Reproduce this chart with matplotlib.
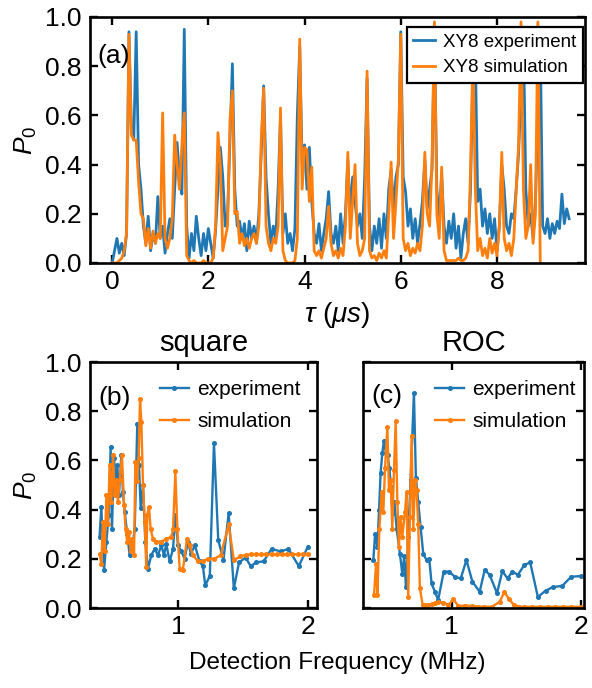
import matplotlib
matplotlib.use("Agg")
import matplotlib.pyplot as plt
import numpy as np

# ---- (a) XY8 sweep, P0 vs tau (us), sampled every 0.05 us ----
p_xy8_exp = [
    0.00, 0.05, 0.10, 0.04, 0.08, 0.03, 0.12, 0.94, 0.55, 0.50,
    0.94, 0.40, 0.30, 0.15, 0.08, 0.19, 0.05, 0.12, 0.08, 0.27,
    0.10, 0.15, 0.04, 0.12, 0.18, 0.10, 0.30, 0.49, 0.35, 0.28,
    0.95, 0.15, 0.02, 0.12, 0.05, 0.19, 0.10, 0.03, 0.12, 0.05,
    0.14, 0.08, 0.02, 0.13, 0.30, 0.47, 0.35, 0.15, 0.20, 0.50,
    0.81, 0.30, 0.15, 0.17, 0.10, 0.16, 0.05, 0.17, 0.10, 0.15,
    0.08, 0.20, 0.45, 0.72, 0.35, 0.20, 0.08, 0.15, 0.10, 0.30,
    0.60, 0.12, 0.20, 0.08, 0.12, 0.05, 0.14, 0.60, 0.88, 0.40,
    0.48, 0.30, 0.47, 0.25, 0.12, 0.08, 0.16, 0.05, 0.12, 0.18,
    0.29, 0.12, 0.08, 0.15, 0.05, 0.20, 0.08, 0.20, 0.42, 0.20,
    0.35, 0.25, 0.15, 0.20, 0.10, 0.35, 0.75, 0.15, 0.05, 0.15,
    0.08, 0.18, 0.06, 0.20, 0.10, 0.30, 0.38, 0.22, 0.35, 0.40,
    0.94, 0.35, 0.29, 0.15, 0.22, 0.10, 0.18, 0.08, 0.16, 0.25,
    0.42, 0.22, 0.30, 0.38, 0.95, 0.30, 0.18, 0.36, 0.15, 0.08,
    0.17, 0.10, 0.20, 0.06, 0.15, 0.02, 0.12, 0.18, 0.08, 0.30,
    0.80, 0.85, 0.25, 0.30, 0.15, 0.22, 0.12, 0.20, 0.10, 0.18,
    0.05, 0.15, 0.40, 0.30, 0.15, 0.12, 0.20, 0.18, 0.30, 0.45,
    0.70, 0.92, 0.30, 0.15, 0.20, 0.10, 0.25, 0.60, 0.90, 0.15,
    0.12, 0.18, 0.10, 0.16, 0.12, 0.17, 0.14, 0.28, 0.16, 0.22, 0.18,
]
p_xy8_sim = [
    0.00, 0.00, 0.00, 0.01, 0.02, 0.05, 0.12, 0.93, 0.52, 0.50,
    0.50, 0.33, 0.20, 0.18, 0.07, 0.14, 0.06, 0.13, 0.08, 0.12,
    0.10, 0.61, 0.10, 0.06, 0.10, 0.18, 0.52, 0.40, 0.30, 0.48,
    0.61, 0.03, 0.01, 0.00, 0.01, 0.00, 0.00, 0.00, 0.01, 0.00,
    0.00, 0.00, 0.02, 0.15, 0.53, 0.40, 0.05, 0.10, 0.15, 0.58,
    0.70, 0.20, 0.21, 0.08, 0.12, 0.07, 0.10, 0.06, 0.10, 0.12,
    0.08, 0.15, 0.50, 0.71, 0.15, 0.08, 0.05, 0.10, 0.08, 0.15,
    0.63, 0.05, 0.01, 0.00, 0.00, 0.00, 0.01, 0.10, 0.91, 0.30,
    0.47, 0.46, 0.25, 0.39, 0.05, 0.03, 0.05, 0.02, 0.06, 0.10,
    0.23, 0.08, 0.03, 0.05, 0.02, 0.06, 0.03, 0.15, 0.45, 0.10,
    0.25, 0.40, 0.08, 0.03, 0.05, 0.10, 0.78, 0.05, 0.02, 0.03,
    0.01, 0.04, 0.02, 0.05, 0.02, 0.20, 0.41, 0.10, 0.25, 0.42,
    0.93, 0.10, 0.05, 0.08, 0.03, 0.06, 0.04, 0.08, 0.05, 0.15,
    0.45, 0.20, 0.15, 0.41, 0.98, 0.20, 0.10, 0.39, 0.05, 0.01,
    0.01, 0.01, 0.01, 0.01, 0.02, 0.01, 0.01, 0.02, 0.05, 0.37,
    0.85, 0.30, 0.05, 0.10, 0.03, 0.06, 0.02, 0.10, 0.04, 0.08,
    0.03, 0.15, 0.45, 0.10, 0.05, 0.08, 0.03, 0.10, 0.30, 0.48,
    0.98, 0.30, 0.10, 0.15, 0.40, 0.08, 0.20, 0.98, 0.00,
]
tau_exp = np.linspace(0, 9.5, len(p_xy8_exp))
tau_sim = np.linspace(0, 8.9, len(p_xy8_sim))

# ---- (b) square pulses, P0 vs detection frequency (MHz) ----
f_sq_exp = [0.397, 0.41, 0.431, 0.449, 0.467, 0.482, 0.492, 0.508, 0.52, 0.533,
            0.546, 0.564, 0.577, 0.59, 0.61, 0.628, 0.646, 0.667, 0.687, 0.70,
            0.713, 0.731, 0.749, 0.769, 0.795, 0.82, 0.846, 0.872, 0.892, 0.91,
            0.936, 0.962, 0.98, 1.00, 1.026, 1.051, 1.077, 1.10, 1.13, 1.166,
            1.192, 1.21, 1.245, 1.277, 1.31, 1.35, 1.39, 1.43, 1.47, 1.52,
            1.56, 1.60, 1.66, 1.72, 1.79, 1.85, 1.93, 2.00]
p_sq_exp = [0.29, 0.41, 0.155, 0.27, 0.38, 0.655, 0.32, 0.61, 0.49, 0.58,
            0.46, 0.62, 0.47, 0.39, 0.30, 0.215, 0.24, 0.32, 0.75, 0.58,
            0.405, 0.50, 0.27, 0.16, 0.215, 0.24, 0.215, 0.255, 0.215, 0.26,
            0.19, 0.24, 0.38, 0.255, 0.23, 0.20, 0.27, 0.22, 0.255, 0.19,
            0.17, 0.092, 0.13, 0.67, 0.276, 0.195, 0.385, 0.08, 0.185, 0.205,
            0.17, 0.185, 0.19, 0.24, 0.23, 0.24, 0.17, 0.25]
f_sq_sim = [0.397, 0.41, 0.423, 0.436, 0.449, 0.461, 0.474, 0.487, 0.50, 0.513,
            0.526, 0.538, 0.551, 0.569, 0.585, 0.597, 0.61, 0.623, 0.636, 0.649,
            0.662, 0.672, 0.685, 0.697, 0.708, 0.718, 0.731, 0.744, 0.756, 0.764,
            0.777, 0.79, 0.808, 0.833, 0.872, 0.91, 0.949, 0.962, 0.98, 0.995,
            1.013, 1.038, 1.069, 1.09, 1.115, 1.154, 1.192, 1.23, 1.28, 1.33,
            1.39, 1.43, 1.48, 1.52, 1.56, 1.60, 1.64, 1.68, 1.72, 1.76,
            1.80, 1.84, 1.88, 1.92, 1.96, 2.00]
p_sq_sim = [0.22, 0.18, 0.35, 0.23, 0.46, 0.34, 0.58, 0.43, 0.62, 0.46,
            0.52, 0.43, 0.52, 0.62, 0.42, 0.32, 0.27, 0.31, 0.23, 0.28,
            0.215, 0.595, 0.515, 0.608, 0.85, 0.757, 0.50, 0.35, 0.165, 0.38,
            0.41, 0.32, 0.28, 0.27, 0.27, 0.28, 0.29, 0.32, 0.555, 0.32,
            0.16, 0.155, 0.28, 0.255, 0.215, 0.19, 0.19, 0.20, 0.20, 0.215,
            0.34, 0.195, 0.21, 0.215, 0.218, 0.218, 0.218, 0.218, 0.218, 0.218,
            0.218, 0.218, 0.218, 0.218, 0.218, 0.218]

# ---- (c) ROC pulses ----
f_roc_exp = [0.395, 0.408, 0.426, 0.439, 0.451, 0.464, 0.477, 0.492, 0.505, 0.518,
             0.531, 0.544, 0.557, 0.575, 0.60, 0.618, 0.633, 0.646, 0.664, 0.682,
             0.708, 0.723, 0.741, 0.759, 0.78, 0.805, 0.826, 0.844, 0.869, 0.895,
             0.938, 0.979, 1.023, 1.069, 1.113, 1.159, 1.215, 1.254, 1.292, 1.349,
             1.39, 1.43, 1.467, 1.51, 1.56, 1.605, 1.664, 1.723, 1.78, 1.852,
             1.921, 2.00]
p_roc_exp = [0.195, 0.30, 0.25, 0.40, 0.55, 0.63, 0.68, 0.63, 0.62, 0.57,
             0.49, 0.385, 0.43, 0.32, 0.22, 0.14, 0.21, 0.087, 0.29, 0.52,
             0.873, 0.53, 0.43, 0.33, 0.22, 0.195, 0.20, 0.10, 0.067, 0.033,
             0.148, 0.148, 0.127, 0.12, 0.195, 0.107, 0.066, 0.155, 0.135, 0.06,
             0.15, 0.12, 0.148, 0.135, 0.175, 0.185, 0.045, 0.07, 0.085, 0.09,
             0.127, 0.13]
f_roc_sim = [0.40, 0.416, 0.426, 0.441, 0.459, 0.472, 0.485, 0.503, 0.515, 0.528,
             0.541, 0.554, 0.567, 0.58, 0.592, 0.605, 0.618, 0.639, 0.651, 0.664,
             0.677, 0.69, 0.703, 0.716, 0.728, 0.741, 0.754, 0.775, 0.795, 0.82,
             0.846, 0.87, 0.897, 0.936, 0.974, 1.013, 1.05, 1.10, 1.154, 1.20,
             1.25, 1.308, 1.37, 1.405, 1.44, 1.477, 1.52, 1.56, 1.62, 1.68,
             1.74, 1.80, 1.86, 1.92, 2.00]
p_roc_sim = [0.053, 0.18, 0.053, 0.32, 0.47, 0.39, 0.57, 0.737, 0.48, 0.52,
             0.32, 0.56, 0.76, 0.43, 0.25, 0.37, 0.29, 0.39, 0.47, 0.046,
             0.37, 0.70, 0.32, 0.52, 0.48, 0.34, 0.08, 0.013, 0.013, 0.014,
             0.016, 0.02, 0.025, 0.022, 0.013, 0.035, 0.008, 0.01, 0.008, 0.006,
             0.005, 0.005, 0.025, 0.065, 0.038, 0.013, 0.005, 0.005, 0.005, 0.005,
             0.005, 0.005, 0.005, 0.005, 0.005]

plt.rcParams['font.family'] = 'Liberation Sans'
plt.rcParams['mathtext.fontset'] = 'custom'
plt.rcParams['mathtext.rm'] = 'Liberation Sans'
plt.rcParams['mathtext.it'] = 'Liberation Sans:italic'
plt.rcParams['axes.linewidth'] = 1.9

W, H = 592, 688
fig = plt.figure(figsize=(W / 100, H / 100), dpi=100)
ax_a = fig.add_axes([90 / W, 1 - 263 / H, 495 / W, 246 / H])
ax_b = fig.add_axes([90 / W, 1 - 608 / H, 227 / W, 246 / H])
ax_c = fig.add_axes([363 / W, 1 - 608 / H, 221 / W, 246 / H])

yticks = [0, 0.2, 0.4, 0.6, 0.8, 1.0]
ylabels = ['0.0', '0.2', '0.4', '0.6', '0.8', '1.0']


def style(ax):
    ax.tick_params(direction='in', top=True, right=True, length=6, width=1.7,
                   labelsize=19, pad=6)
    ax.tick_params(axis='x', pad=5)
    ax.set_ylim(0, 1)
    ax.set_yticks(yticks)


ax_a.plot(tau_exp, p_xy8_exp, color='C0', lw=2, label='XY8 experiment')
ax_a.plot(tau_sim, p_xy8_sim, color='C1', lw=2, label='XY8 simulation')
style(ax_a)
ax_a.set_xlim(-0.46, 9.83)
ax_a.set_xticks([0, 2, 4, 6, 8])
ax_a.set_yticklabels(ylabels)
ax_a.set_xlabel(r'$\tau$ ($\mu s$)', fontsize=20, labelpad=4)
ax_a.set_ylabel(r'$P_0$', fontsize=19, labelpad=4)
ax_a.text(0.015, 0.84, '(a)', transform=ax_a.transAxes, va='center', fontsize=19)
leg = ax_a.legend(loc='upper right', bbox_to_anchor=(0.996, 0.959),
                  borderaxespad=0, fontsize=13.5, fancybox=False, framealpha=1,
                  edgecolor='black', handlelength=1.15, handletextpad=0.45,
                  borderpad=0.35, labelspacing=0.45)
leg.get_frame().set_linewidth(1.6)

mk = dict(lw=1.7, marker='o', ms=2.6)
leg_kw = dict(loc='upper left', fontsize=15, frameon=False, handlelength=1.4,
              handletextpad=0.4, borderaxespad=0, borderpad=0,
              labelspacing=0.6)

ax_b.plot(f_sq_exp, p_sq_exp, color='C0', label='experiment', **mk)
ax_b.plot(f_sq_sim, p_sq_sim, color='C1', label='simulation', **mk)
style(ax_b)
ax_b.set_xlim(0.323, 2.07)
ax_b.set_xticks([1, 2])
ax_b.set_yticklabels(ylabels)
ax_b.set_ylabel(r'$P_0$', fontsize=19, labelpad=4)
ax_b.set_title('square', fontsize=21, pad=8)
ax_b.text(0.035, 0.855, '(b)', transform=ax_b.transAxes, va='center', fontsize=19)
ax_b.legend(bbox_to_anchor=(0.308, 0.925), **leg_kw)

ax_c.plot(f_roc_exp, p_roc_exp, color='C0', label='experiment', **mk)
ax_c.plot(f_roc_sim, p_roc_sim, color='C1', label='simulation', **mk)
style(ax_c)
ax_c.set_xlim(0.315, 2.02)
ax_c.set_xticks([1, 2])
ax_c.set_yticklabels([])
ax_c.set_title('ROC', fontsize=21, pad=8)
ax_c.text(0.04, 0.86, '(c)', transform=ax_c.transAxes, va='center', fontsize=19)
ax_c.legend(bbox_to_anchor=(0.326, 0.925), **leg_kw)

fig.text(337 / W, 1 - 663 / H, 'Detection Frequency (MHz)', ha='center',
         va='center', fontsize=17.5)

fig.savefig('out.png', dpi=100)
